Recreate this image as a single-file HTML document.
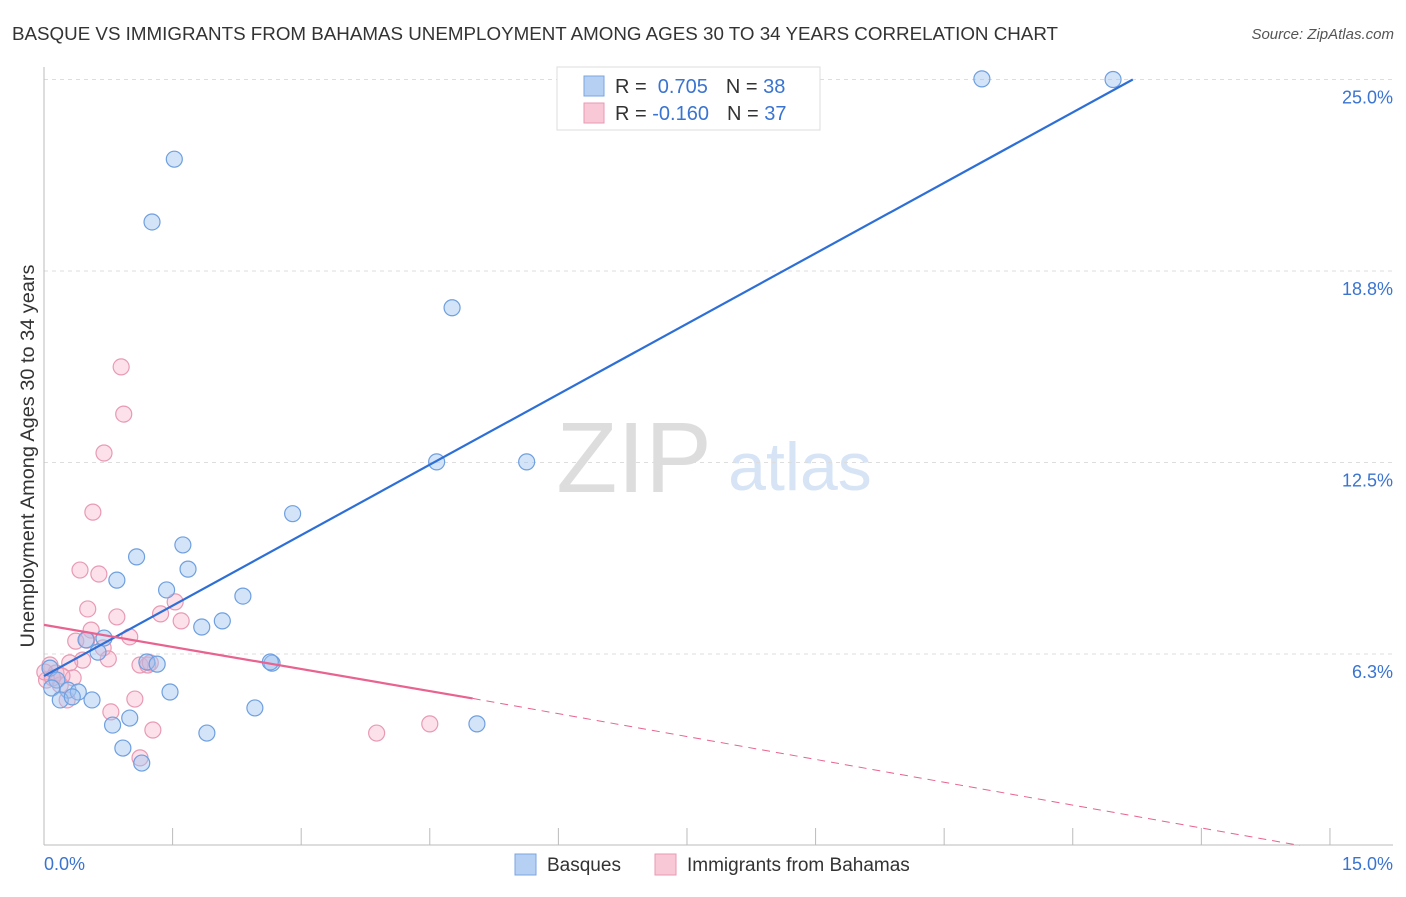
<!DOCTYPE html>
<html><head><meta charset="utf-8"><style>
body{margin:0;background:#fff;font-family:"Liberation Sans",sans-serif;}
svg text{font-family:"Liberation Sans",sans-serif;}
</style></head><body>
<svg id="chart" width="1406" height="892" xmlns="http://www.w3.org/2000/svg">
<text x="12" y="40" font-size="18.5" fill="#333" textLength="1046" lengthAdjust="spacingAndGlyphs">BASQUE VS IMMIGRANTS FROM BAHAMAS UNEMPLOYMENT AMONG AGES 30 TO 34 YEARS CORRELATION CHART</text>
<text x="1394" y="39" font-size="15" fill="#555" font-style="italic" text-anchor="end">Source: ZipAtlas.com</text>
<text x="634" y="492" font-size="100" fill="#ddd" text-anchor="middle" font-family="Liberation Serif">ZIP</text>
<text x="800" y="490" font-size="68" fill="#d6e4f6" text-anchor="middle">atlas</text>
<text transform="translate(34,456) rotate(-90)" font-size="19" fill="#333" text-anchor="middle" textLength="383" lengthAdjust="spacingAndGlyphs">Unemployment Among Ages 30 to 34 years</text>
<g id="grid"></g><g id="marks"></g>
<text x="44" y="870" font-size="18" fill="#3a74d0">0.0%</text>
<text x="1393" y="870" font-size="18" fill="#3a74d0" text-anchor="end">15.0%</text>
<g>
<rect x="557" y="67" width="263" height="63" fill="#fff" stroke="#ddd"/>
<rect x="584" y="76" width="20" height="20" fill="#b6d0f4" stroke="#7aa6e0"/>
<rect x="584" y="103" width="20" height="20" fill="#f9c8d6" stroke="#e89ab3"/>
<text x="615" y="93" font-size="20" fill="#333">R = <tspan fill="#3a74d0">&#160;0.705</tspan><tspan dx="18">N = </tspan><tspan fill="#3a74d0">38</tspan></text>
<text x="615" y="120" font-size="20" fill="#333">R = <tspan fill="#3a74d0">-0.160</tspan><tspan dx="18">N = </tspan><tspan fill="#3a74d0">37</tspan></text>
</g>
<g>
<rect x="515" y="854" width="21" height="21" fill="#b6d0f4" stroke="#7aa6e0"/>
<text x="547" y="871" font-size="19" fill="#333">Basques</text>
<rect x="655" y="854" width="21" height="21" fill="#f9c8d6" stroke="#e89ab3"/>
<text x="687" y="871" font-size="19" fill="#333">Immigrants from Bahamas</text>
</g>
</svg>
<script>
const yTicks=[6.25,12.5,18.75,25];
const yTickLabels=["6.3%","12.5%","18.8%","25.0%"];
const xTicks=[0,1.5,3,4.5,6,7.5,9,10.5,12,13.5,15];
const basqueX=[10.94,12.47,1.52,1.26,4.76,4.58,5.63,2.90,1.62,1.08,1.68,0.85,1.43,2.32,2.08,1.84,0.70,0.49,0.63,1.20,1.32,2.66,2.64,0.07,0.15,0.09,0.28,0.40,0.19,0.56,1.47,0.33,2.46,5.05,0.80,1.00,1.90,0.92,1.14];
const basqueY=[25.02,25.0,22.40,20.35,17.55,12.52,12.52,10.83,9.81,9.42,9.02,8.66,8.34,8.14,7.33,7.13,6.77,6.71,6.31,5.99,5.92,5.95,5.99,5.79,5.40,5.14,5.07,5.01,4.75,4.75,5.01,4.85,4.49,3.97,3.93,4.16,3.67,3.18,2.69];
const bahamasX=[0.90,0.93,0.70,0.57,0.42,0.64,0.51,0.85,1.36,1.53,1.60,0.55,1.00,0.37,0.69,0.45,0.75,0.30,1.12,1.21,0.07,0.14,0.34,0.19,0.03,0.27,1.06,0.78,1.27,1.12,3.88,4.50,0.01,0.21,0.10,0.50,1.24];
const bahamasY=[15.62,14.08,12.81,10.88,8.99,8.86,7.72,7.46,7.56,7.95,7.33,7.03,6.81,6.67,6.45,6.05,6.09,5.96,5.89,5.89,5.89,5.63,5.47,5.24,5.40,4.75,4.78,4.36,3.77,2.86,3.67,3.97,5.66,5.53,5.47,6.70,5.96];
const blueLine=[[0,5.53],[12.7,25]];
const pinkSolid=[[0,7.2],[5.0,4.8]];
const pinkDash=[[5.0,4.8],[14.65,0]];
const X=v=>44+v*85.73, Y=v=>845.5-v*30.64;
const NS="http://www.w3.org/2000/svg";
function mk(tag,attrs,parent){const e=document.createElementNS(NS,tag);for(const k in attrs)e.setAttribute(k,attrs[k]);parent.appendChild(e);return e;}
const grid=document.getElementById('grid'),marks=document.getElementById('marks');
yTicks.forEach((t,i)=>{
 const l=mk('line',{x1:44,x2:1393,y1:Y(t),y2:Y(t),stroke:'#ddd','stroke-dasharray':'4,4'},grid);
 
 
 const tx=mk('text',{x:1393,y:Y(t)+24,'font-size':18,fill:'#3a74d0','text-anchor':'end'},grid);
 tx.textContent=yTickLabels[i];
 
 
});
const ax=mk('line',{x1:44,x2:1393,y1:845,y2:845,stroke:'#bbb'},grid);


const ay=mk('line',{x1:44,x2:44,y1:67,y2:845,stroke:'#bbb'},grid);


xTicks.forEach(t=>{
 const l=mk('line',{x1:X(t),x2:X(t),y1:828,y2:845,stroke:'#bbb'},grid);
 
 
});
bahamasX.forEach((x,i)=>{
 const c=mk('circle',{cx:X(x),cy:Y(bahamasY[i]),r:8,fill:'rgba(245,170,195,0.35)',stroke:'#e89ab3','stroke-width':1.2},marks);
 
 
});
basqueX.forEach((x,i)=>{
 const c=mk('circle',{cx:X(x),cy:Y(basqueY[i]),r:8,fill:'rgba(160,196,240,0.45)',stroke:'#6e9fdf','stroke-width':1.2},marks);
 
 
});
const bl=mk('line',{x1:X(blueLine[0][0]),y1:Y(blueLine[0][1]),x2:X(blueLine[1][0]),y2:Y(blueLine[1][1]),stroke:'#2d6fd6','stroke-width':2.2},marks);


const ps=mk('line',{x1:X(pinkSolid[0][0]),y1:Y(pinkSolid[0][1]),x2:X(pinkSolid[1][0]),y2:Y(pinkSolid[1][1]),stroke:'#e8638f','stroke-width':2.2},marks);


const pd=mk('line',{x1:X(pinkDash[0][0]),y1:Y(pinkDash[0][1]),x2:X(pinkDash[1][0]),y2:Y(pinkDash[1][1]),stroke:'#e8638f','stroke-width':1,'stroke-dasharray':'8,6'},marks);


</script>
</body></html>
